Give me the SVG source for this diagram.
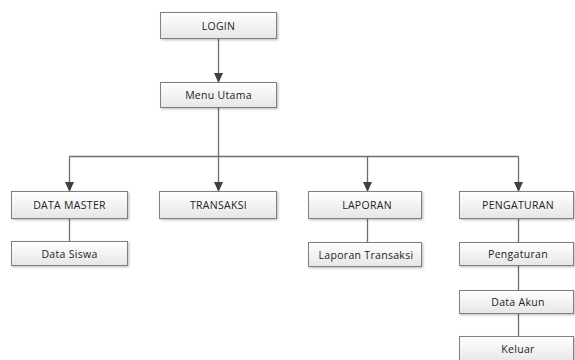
<svg xmlns="http://www.w3.org/2000/svg" width="575" height="360" viewBox="0 0 575 360">
<defs>
<linearGradient id="g" x1="0" y1="0" x2="0" y2="1">
<stop offset="0" stop-color="#ffffff"/>
<stop offset="1" stop-color="#e6e6e6"/>
</linearGradient>
<marker id="arr" markerWidth="10" markerHeight="10" refX="9" refY="5" orient="auto" markerUnits="userSpaceOnUse">
<path d="M0,0.5 L10,5 L0,9.5 Z" fill="#404040"/>
</marker>
<filter id="sh" x="-10%" y="-20%" width="130%" height="160%">
<feDropShadow dx="1.2" dy="1.2" stdDeviation="0.8" flood-color="#000" flood-opacity="0.25"/>
</filter>
</defs>
<style>
.box{fill:url(#g);stroke:#7f7f7f;stroke-width:1;filter:url(#sh)}
.lbl{font-family:"Open Sans","Liberation Sans",sans-serif;font-size:10.5px;letter-spacing:0.3px;fill:#222;text-anchor:middle;dominant-baseline:central}
.ln{stroke:#6e6e6e;stroke-width:1.3;fill:none}
.ar{stroke:#6e6e6e;stroke-width:1.3;fill:none;marker-end:url(#arr)}
</style>
<rect width="575" height="360" fill="#fff"/>
<g id="connectors">
<path class="ar" d="M218.5,38.5 V82"/>
<path class="ln" d="M218.5,107 V156.5"/>
<path class="ln" d="M69.5,156.5 H518.5"/>
<path class="ar" d="M69.5,156.5 V191"/>
<path class="ar" d="M218.5,156.5 V191"/>
<path class="ar" d="M367.5,156.5 V191"/>
<path class="ar" d="M518.5,156.5 V191"/>
<path class="ln" d="M69.5,219 V241"/>
<path class="ln" d="M367.5,219 V242"/>
<path class="ln" d="M518.5,219 V242"/>
<path class="ln" d="M518.5,265 V290"/>
<path class="ln" d="M518.5,313 V336"/>
</g>
<g id="login"><rect class="box" x="160.5" y="12.5" width="116" height="26"/><text class="lbl" x="218.5" y="25.5">LOGIN</text></g>
<g id="menu-utama"><rect class="box" x="160.5" y="82.5" width="116" height="25"/><text class="lbl" x="218.5" y="95">Menu Utama</text></g>
<g id="data-master"><rect class="box" x="11.5" y="191.5" width="116" height="27"/><text class="lbl" x="69.5" y="205">DATA MASTER</text></g>
<g id="transaksi"><rect class="box" x="159.5" y="191.5" width="117" height="27"/><text class="lbl" x="218.5" y="205">TRANSAKSI</text></g>
<g id="laporan"><rect class="box" x="308.5" y="191.5" width="113" height="27"/><text class="lbl" x="367" y="205">LAPORAN</text></g>
<g id="pengaturan"><rect class="box" x="459.5" y="191.5" width="114" height="27"/><text class="lbl" x="518" y="205">PENGATURAN</text></g>
<g id="data-siswa"><rect class="box" x="11.5" y="241.5" width="116" height="24"/><text class="lbl" x="69.5" y="253.5">Data Siswa</text></g>
<g id="laporan-transaksi"><rect class="box" x="308.5" y="242.5" width="113" height="24"/><text class="lbl" x="366" y="254.5">Laporan Transaksi</text></g>
<g id="pengaturan-sub"><rect class="box" x="459.5" y="242.5" width="114" height="23"/><text class="lbl" x="518" y="254">Pengaturan</text></g>
<g id="data-akun"><rect class="box" x="459.5" y="290.5" width="114" height="23"/><text class="lbl" x="518" y="302">Data Akun</text></g>
<g id="keluar"><rect class="box" x="459.5" y="336.5" width="114" height="26"/><text class="lbl" x="518" y="349">Keluar</text></g>
</svg>
